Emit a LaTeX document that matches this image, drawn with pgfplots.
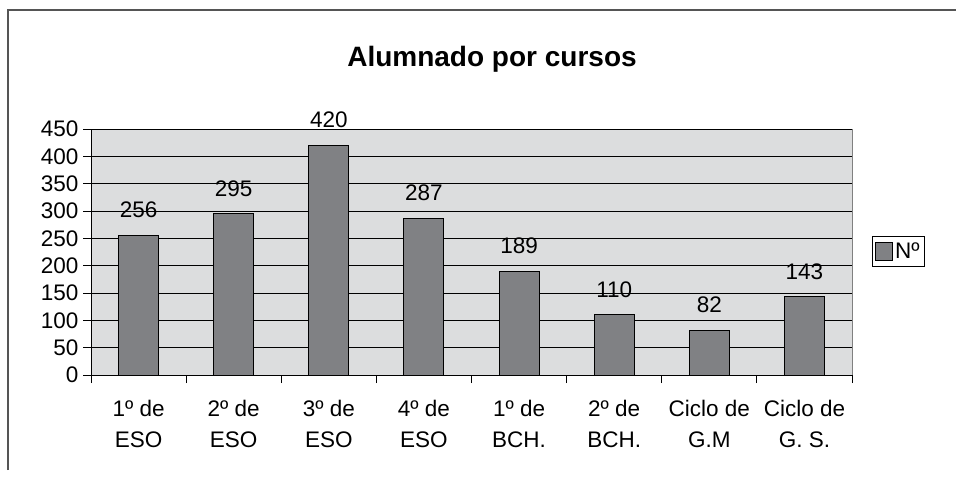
\documentclass[border=0pt]{standalone}
\usepackage{fontspec}
\setmainfont{Liberation Sans}
\usepackage{pgfplots}
\pgfplotsset{compat=1.18}
\definecolor{plotBg}{HTML}{DCDDDE}
\definecolor{barFill}{HTML}{808184}
\definecolor{frameCol}{HTML}{555555}

\begin{document}
\begin{tikzpicture}[x=1pt,y=1pt]
% canvas the size of the reference
\path (0,0) rectangle (957,477);
\draw[line width=1.8pt, frameCol] (8,7) -- (8,467) -- (956,467);
\node[font=\fontsize{28}{32}\selectfont\bfseries] at (492,418) {Alumnado por cursos};

\begin{axis}[
  at={(91pt,102pt)}, anchor=south west,
  scale only axis, width=761pt, height=246pt,
  xmin=-0.5, xmax=7.5, ymin=0, ymax=450,
  ytick={0,50,...,450},
  xtick={0,...,7},
  xticklabels={1º de\\ESO, 2º de\\ESO, 3º de\\ESO, 4º de\\ESO,
    1º de\\BCH., 2º de\\BCH., Ciclo de\\G.M, Ciclo de\\G. S.},
  minor xtick={-0.5,0.5,...,7.5},
  major x tick style={draw=none},
  axis lines=left, axis line style={-, black, line width=0.8pt},
  axis background/.style={fill=plotBg, draw=gray, line width=0.8pt},
  tick align=outside, major tick length=8pt, minor tick length=8pt,
  tick style={black, line width=0.8pt},
  ymajorgrids, grid style={black, line width=0.8pt},
  /pgf/number format/assume math mode=true,
  tick label style={font=\fontsize{22.5}{31}\selectfont},
  xticklabel style={align=center, yshift=-14pt},
  yticklabel style={xshift=-1pt},
  ybar, bar width=0.42,
  nodes near coords,
  nodes near coords style={font=\fontsize{22.5}{26}\selectfont, anchor=south, inner sep=0pt, yshift=17pt},
  legend style={at={(1.026,0.502)}, anchor=west, draw=black, line width=0.8pt,
    font=\fontsize{22.5}{26}\selectfont, inner xsep=3pt, inner ysep=4pt},
  legend image code/.code={\draw[#1] (0pt,-9pt) rectangle (17pt,9pt);},
]
\addplot[fill=barFill, draw=black, line width=1pt]
  coordinates {(0,256) (1,295) (2,420) (3,287) (4,189) (5,110) (6,82) (7,143)};
\addlegendentry{Nº}
\end{axis}
\end{tikzpicture}
\end{document}
